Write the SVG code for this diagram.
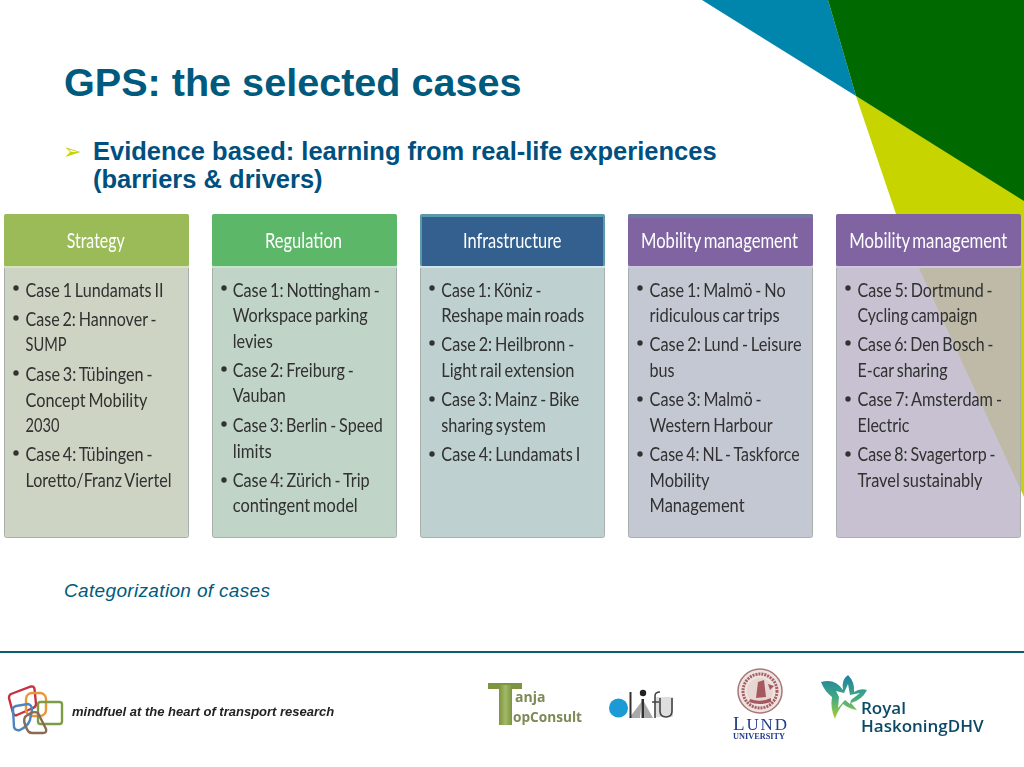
<svg xmlns="http://www.w3.org/2000/svg" width="1024" height="767" viewBox="0 0 1024 767">
<style>
text{font-family:"Liberation Sans",Arial,sans-serif}
.title{font-size:39.6px;font-weight:bold;fill:#005a7d}
.sub{font-size:25.5px;font-weight:bold;fill:#00507f}
.cap{font-size:19px;font-style:italic;fill:#005a7d}
.hd{font-family:Lato,"Open Sans",sans-serif;font-size:21.5px;fill:#fff;word-spacing:-2px}
.b{font-family:Lato,"Open Sans",sans-serif;font-size:19.5px;fill:#303030;word-spacing:-1.5px}
.soft{filter:url(#soft)}
.frame{stroke:#a9b0ac;stroke-width:1}
.ol{font-family:"Open Sans",sans-serif;font-size:14px;font-weight:bold;fill:#7d8a55}
.rh{font-family:"Open Sans",sans-serif;font-size:17px;font-weight:600;fill:#0b4a66}
</style>
<defs>
<filter id="soft" x="-5%" y="-5%" width="110%" height="110%"><feGaussianBlur stdDeviation="0.4"/></filter>
<linearGradient id="star" gradientUnits="userSpaceOnUse" x1="840" y1="675" x2="840" y2="719"><stop offset="0" stop-color="#1f80a0"/><stop offset="0.5" stop-color="#3fa884"/><stop offset="1" stop-color="#a8cf38"/></linearGradient>
<linearGradient id="tstem" x1="0" y1="0" x2="1" y2="0"><stop offset="0" stop-color="#7d9440"/><stop offset="0.5" stop-color="#a3b868"/><stop offset="1" stop-color="#7d9440"/></linearGradient>
<circle id="dot" r="2.7" fill="#333"/>
</defs>
<rect width="1024" height="767" fill="#fff"/>
<g id="corner">
<polygon points="856,96 1024,200 1024,497 919,268 896,214" fill="#c8d400"/>
<polygon points="702,0 828,0 856,96" fill="#0085ad"/>
<polygon points="828,0 1024,0 1024,201 856,96" fill="#006a00"/>
</g>
<text class="title" x="64" y="96">GPS: the selected cases</text>
<text x="63" y="159" style="font-family:'DejaVu Sans',sans-serif;font-size:22px;fill:#c8d400">➢</text>
<text class="sub" x="93" y="160">Evidence based: learning from real-life experiences</text>
<text class="sub" x="93" y="188">(barriers &amp; drivers)</text>

<g id="box-strategy">
<rect class="frame" x="4.5" y="214.5" width="184" height="323" rx="2" fill="#cdd4c4"/>
<rect x="4" y="214" width="185" height="52" rx="2" fill="#9bbb59"/>
<rect x="4" y="266" width="185" height="2" fill="#d6e3bc"/>
<g class="soft">
<text class="hd" x="66.7" y="248" textLength="58" lengthAdjust="spacingAndGlyphs">Strategy</text>
<use href="#dot" x="16" y="288"/><text class="b" x="25.5" y="297" textLength="138" lengthAdjust="spacingAndGlyphs">Case 1 Lundamats II</text>
<use href="#dot" x="16" y="318"/><text class="b" x="25.5" y="326" textLength="131" lengthAdjust="spacingAndGlyphs">Case 2: Hannover -</text>
<text class="b" x="25.5" y="351" textLength="41" lengthAdjust="spacingAndGlyphs">SUMP</text>
<use href="#dot" x="16" y="373"/><text class="b" x="25.5" y="381" textLength="127" lengthAdjust="spacingAndGlyphs">Case 3: Tübingen -</text>
<text class="b" x="25.5" y="407" textLength="122" lengthAdjust="spacingAndGlyphs">Concept Mobility</text>
<text class="b" x="25.5" y="432" textLength="34" lengthAdjust="spacingAndGlyphs">2030</text>
<use href="#dot" x="16" y="453"/><text class="b" x="25.5" y="461" textLength="127" lengthAdjust="spacingAndGlyphs">Case 4: Tübingen -</text>
<text class="b" x="25.5" y="487" textLength="146" lengthAdjust="spacingAndGlyphs">Loretto/Franz Viertel</text>
</g>
</g>

<g id="box-regulation">
<rect class="frame" x="212.5" y="214.5" width="184" height="323" rx="2" fill="#c1d4c8"/>
<rect x="212" y="214" width="185" height="52" rx="2" fill="#5cb768"/>
<rect x="212" y="266" width="185" height="2" fill="#c4e5ca"/>
<g class="soft">
<text class="hd" x="265" y="248" textLength="77" lengthAdjust="spacingAndGlyphs">Regulation</text>
<use href="#dot" x="224" y="288"/><text class="b" x="232.7" y="297" textLength="147" lengthAdjust="spacingAndGlyphs">Case 1: Nottingham -</text>
<text class="b" x="232.7" y="322" textLength="135" lengthAdjust="spacingAndGlyphs">Workspace parking</text>
<text class="b" x="232.7" y="348" textLength="40" lengthAdjust="spacingAndGlyphs">levies</text>
<use href="#dot" x="224" y="369"/><text class="b" x="232.7" y="377" textLength="121" lengthAdjust="spacingAndGlyphs">Case 2: Freiburg -</text>
<text class="b" x="232.7" y="402" textLength="53" lengthAdjust="spacingAndGlyphs">Vauban</text>
<use href="#dot" x="224" y="424"/><text class="b" x="232.7" y="432" textLength="150" lengthAdjust="spacingAndGlyphs">Case 3: Berlin - Speed</text>
<text class="b" x="232.7" y="458" textLength="39" lengthAdjust="spacingAndGlyphs">limits</text>
<use href="#dot" x="224" y="480"/><text class="b" x="232.7" y="487" textLength="137" lengthAdjust="spacingAndGlyphs">Case 4: Zürich - Trip</text>
<text class="b" x="232.7" y="512" textLength="125" lengthAdjust="spacingAndGlyphs">contingent model</text>
</g>
</g>

<g id="box-infrastructure">
<rect class="frame" x="420.5" y="214.5" width="184" height="323" rx="2" fill="#bfd0d0"/>
<rect x="420" y="214" width="185" height="52" rx="2" fill="#5b9aa8"/>
<rect x="422" y="217" width="181" height="49" fill="#34608f"/>
<rect x="420" y="266" width="185" height="2" fill="#cfe3ea"/>
<g class="soft">
<text class="hd" x="463" y="248" textLength="98.5" lengthAdjust="spacingAndGlyphs">Infrastructure</text>
<use href="#dot" x="432" y="288"/><text class="b" x="441.3" y="297" textLength="100" lengthAdjust="spacingAndGlyphs">Case 1: Köniz -</text>
<text class="b" x="441.3" y="322" textLength="143" lengthAdjust="spacingAndGlyphs">Reshape main roads</text>
<use href="#dot" x="432" y="343"/><text class="b" x="441.3" y="351" textLength="133" lengthAdjust="spacingAndGlyphs">Case 2: Heilbronn -</text>
<text class="b" x="441.3" y="377" textLength="133" lengthAdjust="spacingAndGlyphs">Light rail extension</text>
<use href="#dot" x="432" y="399"/><text class="b" x="441.3" y="406" textLength="138" lengthAdjust="spacingAndGlyphs">Case 3: Mainz - Bike</text>
<text class="b" x="441.3" y="432" textLength="104.5" lengthAdjust="spacingAndGlyphs">sharing system</text>
<use href="#dot" x="432" y="454"/><text class="b" x="441.3" y="461" textLength="139" lengthAdjust="spacingAndGlyphs">Case 4: Lundamats I</text>
</g>
</g>

<g id="box-mobility-1">
<rect class="frame" x="628.5" y="214.5" width="184" height="323" rx="2" fill="#c3c8d3"/>
<rect x="628" y="214" width="185" height="52" rx="2" fill="#8064a2"/>
<rect x="628" y="214" width="185" height="4" rx="2" fill="#6d7a9e"/>
<rect x="628" y="266" width="185" height="2" fill="#cfc7dd"/>
<g class="soft">
<text class="hd" x="641" y="248" textLength="157" lengthAdjust="spacingAndGlyphs">Mobility management</text>
<use href="#dot" x="640" y="288"/><text class="b" x="649.6" y="297" textLength="136" lengthAdjust="spacingAndGlyphs">Case 1: Malmö - No</text>
<text class="b" x="649.6" y="322" textLength="130" lengthAdjust="spacingAndGlyphs">ridiculous car trips</text>
<use href="#dot" x="640" y="343"/><text class="b" x="649.6" y="351" textLength="152" lengthAdjust="spacingAndGlyphs">Case 2: Lund - Leisure</text>
<text class="b" x="649.6" y="377" textLength="25" lengthAdjust="spacingAndGlyphs">bus</text>
<use href="#dot" x="640" y="399"/><text class="b" x="649.6" y="406" textLength="112" lengthAdjust="spacingAndGlyphs">Case 3: Malmö -</text>
<text class="b" x="649.6" y="432" textLength="123" lengthAdjust="spacingAndGlyphs">Western Harbour</text>
<use href="#dot" x="640" y="454"/><text class="b" x="649.6" y="461" textLength="150" lengthAdjust="spacingAndGlyphs">Case 4: NL - Taskforce</text>
<text class="b" x="649.6" y="487" textLength="60" lengthAdjust="spacingAndGlyphs">Mobility</text>
<text class="b" x="649.6" y="512" textLength="95" lengthAdjust="spacingAndGlyphs">Management</text>
</g>
</g>

<g id="box-mobility-2">
<rect class="frame" x="836.5" y="214.5" width="184" height="323" rx="2" fill="#bcb5c8" fill-opacity="0.835"/>
<rect x="836" y="214" width="185" height="52" rx="2" fill="#8064a2"/>
<rect x="836" y="266" width="185" height="2" fill="#cfc7dd"/>
<g class="soft">
<text class="hd" x="849.3" y="248" textLength="158" lengthAdjust="spacingAndGlyphs">Mobility management</text>
<use href="#dot" x="848" y="288"/><text class="b" x="857.5" y="297" textLength="135" lengthAdjust="spacingAndGlyphs">Case 5: Dortmund -</text>
<text class="b" x="857.5" y="322" textLength="120" lengthAdjust="spacingAndGlyphs">Cycling campaign</text>
<use href="#dot" x="848" y="343"/><text class="b" x="857.5" y="351" textLength="136" lengthAdjust="spacingAndGlyphs">Case 6: Den Bosch -</text>
<text class="b" x="857.5" y="377" textLength="90" lengthAdjust="spacingAndGlyphs">E-car sharing</text>
<use href="#dot" x="848" y="399"/><text class="b" x="857.5" y="406" textLength="144.5" lengthAdjust="spacingAndGlyphs">Case 7: Amsterdam -</text>
<text class="b" x="857.5" y="432" textLength="52" lengthAdjust="spacingAndGlyphs">Electric</text>
<use href="#dot" x="848" y="454"/><text class="b" x="857.5" y="461" textLength="138" lengthAdjust="spacingAndGlyphs">Case 8: Svagertorp -</text>
<text class="b" x="857.5" y="487" textLength="125" lengthAdjust="spacingAndGlyphs">Travel sustainably</text>
</g>
</g>

<text class="cap" x="64" y="597" textLength="206" lengthAdjust="spacing">Categorization of cases</text>
<rect x="0" y="651" width="1024" height="2" fill="#0b5f6e"/>

<g id="logo-mindfuel" class="soft">
<g fill="none" stroke-width="2.4">
<path d="M11 694 L31 686.500 Q34 686 34.500 689 L36 704 Q36 707 33 708 L17 715 Q14 716 13 713 L9 698 Q9 695 11 694Z" stroke="#c8313f"/>
<rect x="26" y="693" width="20" height="23" rx="6" stroke="#e8963a"/>
<rect x="38" y="702" width="24" height="22" rx="2.500" stroke="#7c9c45"/>
<path d="M16 706 L28 704 Q32 705 32 710 L30 720 Q28 726 20 730 Q15 731 14 727 L13 709 Q13 707 16 706Z" stroke="#4b86c0"/>
<path d="M25 717 Q33 710 38 713 L46 729 Q47 733 43 733 L32 733 Q28 733 26 727 Q23 721 25 717Z" stroke="#8a6a52"/>
</g>
<text x="72" y="716" style="font-size:13px;font-weight:bold;font-style:italic;fill:#222">mindfuel at the heart of transport research</text>
</g>

<g id="logo-tanja" class="soft">
<rect x="488" y="683" width="34" height="6" fill="#7d9440"/>
<rect x="499" y="685" width="13" height="40" fill="url(#tstem)"/>
<text class="ol" x="515" y="702">anja</text>
<text class="ol" x="513" y="722" textLength="69" lengthAdjust="spacingAndGlyphs">opConsult</text>
</g>

<g id="logo-lifu" class="soft">
<rect x="655" y="697" width="18" height="20" fill="#dedede"/>
<polygon points="643,700 629,718 653,718" fill="#a8a8a8"/>
<path d="M643 700L641 718" stroke="#fff" stroke-width="2"/>
<circle cx="618.500" cy="708" r="9.500" fill="#1b9ad6"/>
<path d="M630.500 692V718" stroke="#333" stroke-width="2"/>
<rect x="641.500" y="699" width="2.500" height="19" fill="#333"/>
<circle cx="643" cy="693" r="3.200" fill="#222"/>
<path d="M655 718V696Q655 692 660 692M652 702H659M660 698V711Q660 717 666 717Q672 717 672 711V698" stroke="#444" stroke-width="1.600" fill="none"/>
</g>

<g id="logo-lund" class="soft">
<circle cx="760" cy="691" r="22" fill="#efe3df" stroke="#a8797c" stroke-width="1.500"/>
<circle cx="760" cy="691" r="17" fill="none" stroke="#a65f66" stroke-width="3" stroke-dasharray="2 1"/>
<circle cx="760" cy="691" r="13" fill="#e8d6d2"/>
<path d="M750 699Q760 703 771 698L771 702Q760 706 749 702ZM756 698L758 682L764 680L766 697ZM768 684L774 686L770 690Z" fill="#a5585f"/>
<text x="733" y="730" textLength="54" lengthAdjust="spacing" style="font-family:'Liberation Serif',serif;font-size:19px;fill:#233c8c">L<tspan font-size="17">UND</tspan></text>
<text x="733" y="739" textLength="52" lengthAdjust="spacingAndGlyphs" style="font-family:'Liberation Serif',serif;font-size:8px;font-weight:bold;fill:#233c8c">UNIVERSITY</text>
</g>

<g id="logo-haskoning" class="soft">
<path d="M821 682Q835 678 843 690Q841 680 848 675Q855 682 854 692Q860 688 867 690Q862 700 851 703L857 710Q849 709 843 704Q838 710 835 719Q830 708 832 697Q825 692 821 682Z" fill="url(#star)"/>
<polygon points="836,691 844,693 848,684 850,695 860,693 851,700 850,704 845,700 838,708 839,697" fill="#fff"/>
<text class="rh" x="861" y="714">Royal</text>
<text class="rh" x="861" y="732">HaskoningDHV</text>
</g>
</svg>
